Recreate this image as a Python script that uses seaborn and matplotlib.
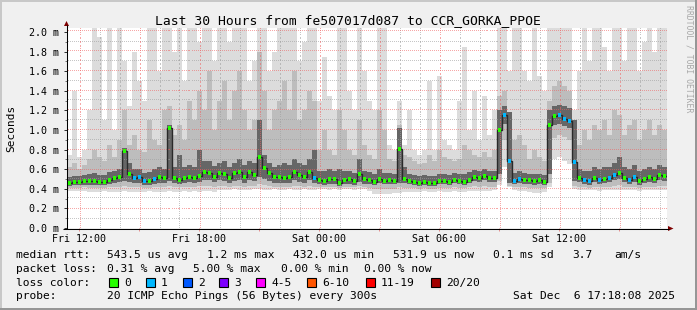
import numpy as np
import matplotlib
matplotlib.use("Agg")
import matplotlib.pyplot as plt
import seaborn as sns
from matplotlib.patches import Rectangle, Polygon

# ---------------- data ----------------
start_hour = 11.385      # hours since Fri 00:00 at the left edge of the graph
step_hours = 0.25        # one column = 15 minutes

median_ms = [0.46,0.47,0.47,0.48,0.48,0.48,0.47,0.47,0.49,0.51,
             0.52,0.79,0.55,0.51,0.52,0.48,0.48,0.50,0.52,0.51,
             1.02,0.51,0.49,0.51,0.52,0.51,0.53,0.57,0.56,0.52,
             0.56,0.55,0.51,0.56,0.57,0.52,0.57,0.54,0.72,0.61,
             0.56,0.52,0.52,0.51,0.52,0.57,0.54,0.52,0.57,0.51,
             0.49,0.48,0.50,0.50,0.46,0.49,0.50,0.48,0.55,0.50,
             0.49,0.47,0.50,0.48,0.49,0.48,0.81,0.50,0.48,0.47,
             0.46,0.47,0.46,0.46,0.48,0.48,0.47,0.49,0.48,0.47,
             0.49,0.52,0.51,0.53,0.51,0.51,1.00,1.15,0.68,0.48,
             0.50,0.49,0.49,0.48,0.49,0.47,1.05,1.14,1.15,1.11,
             1.09,0.67,0.51,0.49,0.48,0.51,0.49,0.50,0.51,0.54,
             0.56,0.51,0.49,0.52,0.48,0.50,0.52,0.50,0.54,0.53]

loss_pings = [0,0,0,0,0,0,0,0,0,0,
              0,0,0,1,1,1,0,1,0,0,
              0,0,0,0,0,0,0,0,0,0,
              0,0,0,0,0,0,0,0,0,0,
              0,0,0,0,0,0,0,0,0,1,
              0,0,0,0,0,0,0,0,0,0,
              0,0,0,0,0,0,0,0,0,0,
              0,0,0,0,0,0,0,0,0,0,
              0,0,0,0,0,0,0,1,1,1,
              1,0,0,0,0,0,0,0,1,1,
              1,1,0,1,1,0,1,0,1,1,
              0,0,1,1,0,0,0,0,0,0]

ping_min = [0.38,0.38,0.38,0.38,0.37,0.37,0.37,0.38,0.37,0.37,
            0.37,0.38,0.37,0.37,0.37,0.37,0.38,0.37,0.37,0.37,
            0.38,0.37,0.37,0.38,0.37,0.38,0.37,0.38,0.38,0.37,
            0.39,0.39,0.39,0.40,0.39,0.39,0.39,0.40,0.40,0.39,
            0.39,0.40,0.39,0.39,0.40,0.39,0.39,0.40,0.39,0.39,
            0.40,0.40,0.39,0.40,0.39,0.40,0.40,0.39,0.40,0.40,
            0.38,0.35,0.35,0.35,0.35,0.36,0.36,0.37,0.37,0.37,
            0.37,0.38,0.37,0.37,0.38,0.37,0.37,0.38,0.37,0.37,
            0.38,0.38,0.38,0.38,0.38,0.39,0.44,0.62,0.42,0.39,
            0.38,0.38,0.37,0.36,0.36,0.37,0.42,0.70,0.72,0.68,
            0.65,0.40,0.39,0.39,0.39,0.39,0.38,0.39,0.39,0.39,
            0.39,0.39,0.39,0.39,0.38,0.39,0.39,0.39,0.39,0.39]

ping_p10 = [0.41,0.41,0.41,0.42,0.41,0.41,0.41,0.41,0.42,0.42,
            0.42,0.43,0.42,0.42,0.42,0.41,0.41,0.42,0.42,0.42,
            0.43,0.42,0.42,0.42,0.42,0.42,0.43,0.43,0.43,0.42,
            0.43,0.43,0.42,0.43,0.43,0.42,0.43,0.43,0.45,0.44,
            0.43,0.42,0.42,0.42,0.42,0.43,0.43,0.42,0.43,0.42,
            0.42,0.42,0.42,0.42,0.41,0.42,0.42,0.42,0.43,0.42,
            0.41,0.40,0.40,0.40,0.40,0.40,0.42,0.41,0.41,0.41,
            0.40,0.41,0.40,0.40,0.41,0.41,0.41,0.42,0.41,0.41,
            0.42,0.43,0.42,0.43,0.42,0.42,0.48,0.90,0.43,0.42,
            0.42,0.42,0.41,0.41,0.41,0.41,0.46,0.92,0.95,0.93,
            0.90,0.43,0.42,0.42,0.41,0.42,0.42,0.42,0.42,0.43,
            0.44,0.42,0.42,0.42,0.41,0.42,0.42,0.42,0.43,0.43]

ping_p25 = [0.43,0.44,0.44,0.44,0.44,0.44,0.44,0.44,0.45,0.46,
            0.47,0.48,0.47,0.46,0.46,0.44,0.44,0.45,0.46,0.46,
            0.48,0.46,0.45,0.46,0.47,0.46,0.47,0.49,0.49,0.47,
            0.49,0.48,0.46,0.48,0.49,0.46,0.49,0.48,0.52,0.50,
            0.48,0.46,0.46,0.46,0.46,0.49,0.47,0.46,0.49,0.46,
            0.45,0.44,0.45,0.45,0.43,0.45,0.45,0.44,0.47,0.45,
            0.45,0.44,0.46,0.45,0.45,0.45,0.46,0.46,0.45,0.44,
            0.43,0.44,0.43,0.43,0.45,0.45,0.44,0.46,0.45,0.44,
            0.46,0.48,0.47,0.49,0.47,0.47,0.55,1.06,0.46,0.45,
            0.46,0.45,0.45,0.44,0.45,0.44,0.55,1.05,1.06,1.04,
            1.02,0.48,0.47,0.45,0.44,0.47,0.45,0.46,0.47,0.49,
            0.50,0.47,0.45,0.47,0.44,0.46,0.47,0.46,0.49,0.48]

ping_p75 = [0.52,0.53,0.53,0.54,0.55,0.56,0.54,0.54,0.57,0.58,
            0.60,0.82,0.66,0.60,0.60,0.56,0.57,0.60,0.62,0.60,
            1.05,0.62,0.74,0.62,0.64,0.62,0.80,0.68,0.68,0.63,
            0.66,0.68,0.62,0.66,0.70,0.64,0.68,0.66,1.10,0.75,
            0.66,0.62,0.64,0.66,0.64,0.70,0.66,0.64,0.70,0.80,
            0.58,0.58,0.60,0.58,0.60,0.58,0.58,0.56,0.70,0.58,
            0.57,0.55,0.60,0.56,0.56,0.55,1.02,0.62,0.55,0.54,
            0.53,0.54,0.53,0.53,0.55,0.55,0.54,0.56,0.55,0.55,
            0.57,0.59,0.58,0.60,0.58,0.58,1.20,1.25,1.18,0.56,
            0.58,0.56,0.55,0.55,0.55,0.54,1.20,1.24,1.26,1.24,
            1.22,1.10,0.60,0.58,0.58,0.62,0.60,0.62,0.62,0.66,
            0.72,0.62,0.60,0.64,0.58,0.60,0.62,0.60,0.64,0.62]

ping_p90 = [0.62,0.66,0.60,0.64,0.70,0.80,0.72,0.68,0.85,0.72,
            0.90,1.20,0.85,0.95,0.80,0.78,1.10,0.90,0.85,1.20,
            1.25,0.95,1.05,0.90,1.30,1.10,1.40,1.20,1.60,1.00,
            1.30,1.50,1.10,1.40,1.60,1.20,1.00,1.10,1.80,1.40,
            1.00,1.20,1.30,1.50,1.20,1.60,1.10,1.20,1.40,1.30,
            0.80,1.00,0.80,0.75,1.20,1.00,0.80,0.75,1.10,0.85,
            0.75,0.70,1.20,1.00,0.70,0.68,1.05,0.75,0.72,0.68,
            0.65,0.66,0.75,0.68,0.80,0.72,0.70,0.68,0.70,0.85,
            0.80,0.75,0.72,0.78,0.72,0.80,1.35,1.40,1.00,0.90,
            0.95,0.85,0.70,0.80,0.72,0.68,1.30,1.45,1.50,1.45,
            1.40,0.95,0.85,1.00,0.90,1.05,1.00,1.10,0.95,1.20,
            1.15,0.95,1.05,1.10,0.90,1.00,1.10,0.95,1.05,1.00]

ping_max = [0.75,1.40,0.72,0.80,1.20,2.10,1.95,1.10,2.10,1.00,
            2.10,1.70,1.25,1.80,1.50,1.30,2.10,2.10,1.60,2.10,
            2.10,1.80,2.10,1.50,2.10,2.10,1.90,2.10,2.10,1.70,
            2.10,2.10,1.90,2.10,2.10,2.10,1.50,1.70,2.10,2.10,
            1.60,1.80,2.10,2.10,2.10,2.10,1.70,1.90,2.10,2.10,
            1.30,1.75,1.35,1.20,2.10,2.10,1.40,1.20,2.10,1.60,
            1.30,1.20,2.10,2.10,0.85,0.80,1.30,0.85,1.20,0.80,
            0.75,0.80,1.50,0.80,1.55,0.90,0.85,0.80,1.30,1.85,
            1.00,1.40,0.90,1.35,0.95,1.20,2.10,2.10,1.60,2.10,
            2.10,1.60,1.50,2.10,1.55,1.40,2.10,2.10,2.10,2.10,
            2.10,1.20,1.60,2.10,1.70,2.10,2.10,1.85,1.60,2.10,
            2.10,1.70,2.10,2.10,1.60,1.90,2.10,1.80,2.10,2.10]

xtick_hours = [12, 18, 24, 30, 36]
xtick_labels = ["Fri 12:00", "Fri 18:00", "Sat 00:00", "Sat 06:00", "Sat 12:00"]
ytick_values = [0.0, 0.2, 0.4, 0.6, 0.8, 1.0, 1.2, 1.4, 1.6, 1.8, 2.0]

loss_names = ["0", "1", "2", "3", "4-5", "6-10", "11-19", "20/20"]
loss_colors = ["#26ff00", "#00b8ff", "#0059ff", "#7e00ff",
               "#ff00ff", "#ff5500", "#ff0000", "#a10000"]

title = "Last 30 Hours from fe507017d087 to CCR_GORKA_PPOE"
rtt_stats = ["543.5 us avg", "1.2 ms max", "432.0 us min", "531.9 us now",
             "0.1 ms sd", "3.7", "am/s"]
loss_stats = ["0.31 % avg", "5.00 % max", "0.00 % min", "0.00 % now"]
probe_text = "20 ICMP Echo Pings (56 Bytes) every 300s"
stamp_text = "Sat Dec  6 17:18:08 2025"

# ---------------- figure ----------------
plt.rcParams["font.family"] = ["DejaVu Sans Mono"]
W, H = 697, 310
fig = plt.figure(figsize=(W / 100, H / 100), dpi=100, facecolor="#f0f0f0")

# plot area in pixels: x 67..667, y 28..228
ax = fig.add_axes([67 / W, (H - 228) / H, 600 / W, 200 / H])
ax.set_facecolor("white")

n = len(median_ms)
edges = start_hour + step_hours * np.arange(n + 1)
centers = edges[:-1] + step_hours / 2


def ext(a):
    a = np.asarray(a, dtype=float)
    return np.append(a, a[-1])


ax.fill_between(edges, ext(ping_min), ext(ping_max), step="post",
                color="#dcdcdc", lw=0, zorder=1)
ax.fill_between(edges, ext(ping_p10), ext(ping_p90), step="post",
                color="#bdbdbd", lw=0, zorder=1.1)
ax.fill_between(edges, ext(ping_p25), ext(ping_p75), step="post",
                color="#666666", lw=0, zorder=1.2)
ax.step(edges, ext(median_ms), where="post", color="#2a2a2a", lw=1.0, zorder=3)

ax.set_xlim(start_hour, start_hour + 30)
ax.set_ylim(0, 200 / 98)

major_x = [h for h in range(12, 42) if h % 3 == 0]
minor_x = [h for h in range(12, 42) if h % 3 != 0]
minor_y = [round(v + 0.1, 1) for v in ytick_values[:-1]]
ax.set_xticks(major_x)
ax.set_xticklabels([xtick_labels[xtick_hours.index(h)] if h in xtick_hours else ""
                    for h in major_x])
ax.set_xticks(minor_x, minor=True)
ax.set_yticks(ytick_values)
ax.set_yticklabels([f"{v:.1f} m" for v in ytick_values])
ax.set_yticks(minor_y, minor=True)

ax.tick_params(axis="x", which="major", length=2, width=0.72, color="#e89090",
               labelsize=7.2, pad=2.5)
ax.tick_params(axis="x", which="minor", length=0)
ax.tick_params(axis="y", which="major", length=2.5, width=0.72, color="#333333",
               labelsize=7.2, pad=3.2)
ax.tick_params(axis="y", which="minor", length=1.5, width=0.72, color="#777777")
for s in ax.spines.values():
    s.set_visible(False)

# ---------------- dotted rrdtool-style grid, drawn in the plot axes ----------------
# one pixel per dot; pixel positions come from the data transform
x0 = int(round(ax.transData.transform((start_hour, 0))[0]))
x1 = int(round(ax.transData.transform((start_hour + 30, 0))[0])) + 1
y_top = int(np.ceil(ax.transData.transform((start_hour, 200 / 98))[1]))
y_bot = int(np.floor(ax.transData.transform((start_hour, 0))[1]))
inv = ax.transData.inverted()


def grid_dots(yvals, xvals):
    pts = []
    cols = np.arange(x0, x1)
    cols = cols[cols % 2 == 1]
    for v in yvals:
        d = np.floor(ax.transData.transform((start_hour, v))[1])
        pts.extend([(c + 0.5, d + 0.5) for c in cols])
    rws = np.arange(y_bot, y_top)
    rws = rws[rws % 2 == 0]
    for h in xvals:
        c = np.floor(ax.transData.transform((h, 0))[0])
        pts.extend([(c + 0.5, r + 0.5) for r in rws])
    data = inv.transform(np.array(pts))
    return data[:, 0], data[:, 1]


gx, gy = grid_dots(minor_y, minor_x)
ax.plot(gx, gy, ",", color="#a0a0a0", alpha=0.6, zorder=2.5)
gx, gy = grid_dots(ytick_values[1:], major_x)
ax.plot(gx, gy, ",", color="#f06060", alpha=0.55, zorder=2.6)

# median rtt coloured by packet loss
loss_label = [loss_names[min(l, 1)] for l in loss_pings]
pal = dict(zip(loss_names, loss_colors))
sns.scatterplot(x=centers, y=median_ms, hue=loss_label, palette=pal,
                marker="s", s=8, linewidth=0, legend=False, ax=ax, zorder=4)
ax.set_xlim(start_hour, start_hour + 30)
ax.set_ylim(0, 200 / 98)

# ---------------- overlay in pixel coordinates ----------------
ov = fig.add_axes([0, 0, 1, 1], zorder=10)
ov.set_xlim(0, W)
ov.set_ylim(H, 0)
ov.axis("off")
ov.patch.set_alpha(0)

# 3D frame
ov.add_patch(Rectangle((0, 0), W, 2, color="#c8c8c8", lw=0))
ov.add_patch(Rectangle((0, 0), 2, H, color="#c8c8c8", lw=0))
ov.add_patch(Rectangle((0, H - 2), W, 2, color="#969696", lw=0))
ov.add_patch(Rectangle((W - 2, 0), 2, H, color="#969696", lw=0))

# axes lines with arrows
ov.plot([66.5, 66.5], [228.5, 25], color="#000000", lw=0.75, solid_capstyle="butt")
ov.plot([63, 669], [228.5, 228.5], color="#000000", lw=0.75, solid_capstyle="butt")
ov.add_patch(Polygon([[64, 26], [69, 26], [66.5, 21]], closed=True,
                     color="#7f0000", lw=0))
ov.add_patch(Polygon([[668, 226], [668, 231], [673.5, 228.5]], closed=True,
                     color="#7f0000", lw=0))

# title and side texts
ov.text(348, 24, title, fontsize=9.4, ha="center", va="baseline", color="black")
ov.text(11, 128, "Seconds", fontsize=8, rotation=90, ha="center", va="center")
ov.text(688.5, 59, "RRDTOOL / TOBI OETIKER", fontsize=5.9, rotation=270,
        ha="center", va="center", color="#a8a8a8")

# legend
fs = 8.1
rows = [258.3, 272.0, 285.7, 299.4]
ov.text(16, rows[0], "median rtt:", fontsize=fs, va="baseline")
for xpos, s in zip([107, 207, 293, 393, 493, 572, 614], rtt_stats):
    ov.text(xpos, rows[0], s, fontsize=fs, va="baseline")
ov.text(16, rows[1], "packet loss:", fontsize=fs, va="baseline")
for xpos, s in zip([107, 193, 281, 364], loss_stats):
    ov.text(xpos, rows[1], s, fontsize=fs, va="baseline")
ov.text(16, rows[2], "loss color:", fontsize=fs, va="baseline")
box_x = [109, 146, 183, 219, 256, 307, 366, 431]
for bx, name, col in zip(box_x, loss_names, loss_colors):
    ov.add_patch(Rectangle((bx, 277.5), 8.5, 9, facecolor=col,
                           edgecolor="black", lw=0.8))
    ov.text(bx + 15, rows[2], name, fontsize=fs, va="baseline")
ov.text(16, rows[3], "probe:", fontsize=fs, va="baseline")
ov.text(107, rows[3], probe_text, fontsize=fs, va="baseline")
ov.text(513, rows[3], stamp_text, fontsize=fs, va="baseline")

fig.savefig("out.png", dpi=100, facecolor=fig.get_facecolor())
